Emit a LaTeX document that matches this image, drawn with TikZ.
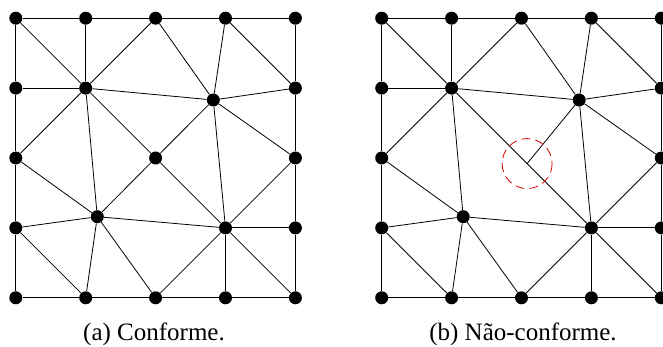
\documentclass[tikz,border=0pt]{standalone}
\usepackage{fontspec}
\setmainfont{Liberation Serif}
\newfontfamily\capfont{Liberation Serif}
\usetikzlibrary{calc}
\tikzset{
  dot/.style={circle,fill=black,inner sep=0pt,minimum size=13pt},
  edge/.style={line width=0.8pt},
  hangmark/.style={draw=red!85!black,line width=0.8pt,dash pattern=on 9pt off 5pt},
  captxt/.style={font=\capfont\fontsize{25}{30}\selectfont,anchor=base,inner sep=0pt}
}
\newcommand\placemesh[2]{%
  \foreach \i in {0,...,4}{\foreach \j in {0,4}{
    \node[dot] (#1-\i-\j) at (#2+15.8+69.9*\i,18.2+69.9*\j) {};}}
  \foreach \i in {0,4}{\foreach \j in {1,2,3}{
    \node[dot] (#1-\i-\j) at (#2+15.8+69.9*\i,18.2+69.9*\j) {};}}
  \node[dot] (#1-1-1) at (#2+15.8+69.9,18.2+69.9) {};
  \node[dot] (#1-3-3) at (#2+15.8+69.9*3,18.2+69.9*3) {};
  \node[dot] (#1-3-1) at (#2+213.3,100) {};
  \node[dot] (#1-1-3) at (#2+97.3,216.7) {};
  \foreach \k/\kn in {0/1,1/2,2/3,3/4}{
    \draw[edge] (#1-\k-0) -- (#1-\kn-0);
    \draw[edge] (#1-\k-4) -- (#1-\kn-4);
    \draw[edge] (#1-0-\k) -- (#1-0-\kn);
    \draw[edge] (#1-4-\k) -- (#1-4-\kn);}
  \foreach \p/\q in {0-1/1-1,1-1/3-1,3-1/4-1,0-3/1-3,1-3/3-3,3-3/4-3,
    1-0/1-1,1-1/1-3,3-0/3-1,3-1/3-3,3-3/3-4,1-3/1-4,
    0-0/1-1,1-1/2-0,2-0/3-1,3-0/4-1,1-1/0-2,3-1/4-2,
    0-2/1-3,4-2/3-3,0-3/1-4,1-3/2-4,2-4/3-3,3-3/4-4}{
    \draw[edge] (#1-\p) -- (#1-\q);}
}
\begin{document}
\begin{tikzpicture}[x=1pt,y=-1pt]
\useasboundingbox (0,0) rectangle (663,347);
% (a) conforming mesh
\placemesh{a}{0}
\node[dot] (a-2-2) at (15.8+69.9*2,18.2+69.9*2) {};
\foreach \q in {1-1,3-1,1-3,3-3}{\draw[edge] (a-2-2) -- (a-\q);}
% (b) non-conforming mesh
\placemesh{b}{365.9}
\draw[edge] (b-1-1) -- (b-3-3);
\coordinate (h) at ($(b-1-1)!0.54!(b-3-3)$);
\draw[edge] (b-3-1) -- (h);
\draw[hangmark] (h) circle[radius=25];
% captions
\node[captxt] (capa) at (154,340) {(a) Conforme.};
\node[captxt] (capb) at (523,340) {(b) Não-conforme.};
\end{tikzpicture}
\end{document}
